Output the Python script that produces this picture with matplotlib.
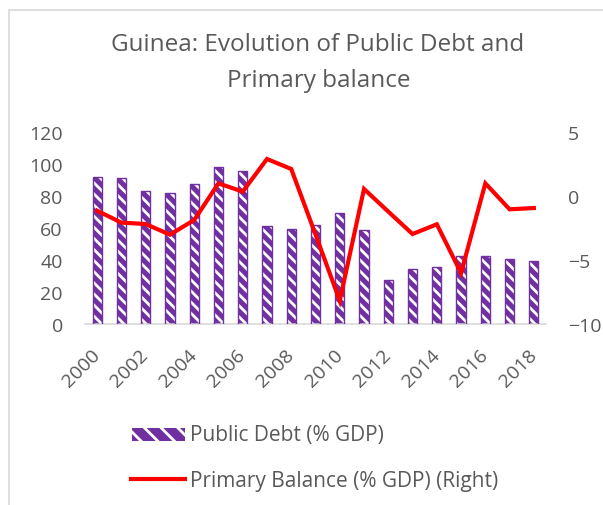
import matplotlib
matplotlib.use("Agg")
import matplotlib.pyplot as plt
from matplotlib.patches import Rectangle
import numpy as np

years = list(range(2000, 2019))
tick_labels = [str(y) if y % 2 == 0 else "" for y in years]
public_debt = [92, 91, 83.3, 82, 87.3, 98.3, 95.8, 61.3, 59.2, 61.7, 69.2,
               58.8, 27.5, 34.4, 35.4, 42.5, 42.5, 40.8, 39.2]
primary_balance = [-1.15, -2.08, -2.19, -3.02, -1.88, 0.99, 0.34, 2.89, 2.11, -3.0,
                   -8.18, 0.55, -1.22, -2.97, -2.21, -6.02, 0.99, -1.04, -0.94]

purple = "#7030A0"
grey = "#595959"
font = "Open Sans"
plt.rcParams["font.family"] = [font, "DejaVu Sans"]
plt.rcParams["hatch.linewidth"] = 2.0

fig = plt.figure(figsize=(6.03, 5.06), dpi=100)
W, H = 603, 506
ax = fig.add_axes([85 / W, 1 - 325 / H, (546 - 85) / W, 192 / H])
ax2 = ax.twinx()

x = np.arange(len(years))
bw = 0.38
hatch = "\\\\\\"
ax.bar(x, public_debt, width=bw, color=purple, edgecolor="none", zorder=2)
ax.bar(x, public_debt, width=bw, facecolor="none", edgecolor="white",
       hatch=hatch, linewidth=0, zorder=3)
ax.bar(x, public_debt, width=bw, facecolor="none", edgecolor=purple,
       linewidth=1.0, zorder=4)

ax2.plot(x, primary_balance, color="#FF0000", linewidth=3, solid_joinstyle="miter", zorder=5)

ax.set_xlim(-0.5, len(years) - 0.5)
ax.set_ylim(0, 120)
ax.set_yticks(range(0, 121, 20))
ax2.set_ylim(-10, 5)
ax2.set_yticks([-10, -5, 0, 5])

for a in (ax, ax2):
    for s in a.spines.values():
        s.set_visible(False)
    a.tick_params(length=0, labelsize=14, labelcolor=grey)
ax.spines["bottom"].set_visible(True)
ax.spines["bottom"].set_color("#D9D9D9")
ax.spines["bottom"].set_linewidth(1.2)
ax.set_xticks(x)
ax.set_xticklabels(tick_labels, rotation=45, ha="right", va="center", rotation_mode="anchor")
ax.tick_params(axis="x", pad=20)
ax.tick_params(axis="y", pad=16)
ax2.tick_params(axis="y", pad=16)

fig.text(318 / W, 1 - 51 / H, "Guinea: Evolution of Public Debt and",
         ha="center", va="baseline", fontsize=17.5, color=grey)
fig.text(319 / W, 1 - 87 / H, "Primary balance",
         ha="center", va="baseline", fontsize=17.5, color=grey)

# legend (manual)
lx0, lx1 = 132 / W, 185 / W
fig.patches.append(Rectangle((lx0, 1 - 442 / H), (lx1 - lx0), 13 / H, transform=fig.transFigure,
                             facecolor=purple, edgecolor="none", figure=fig))
fig.patches.append(Rectangle((lx0, 1 - 442 / H), (lx1 - lx0), 13 / H, transform=fig.transFigure,
                             facecolor="none", edgecolor="white", hatch="\\\\", linewidth=0, figure=fig))
fig.add_artist(plt.Line2D([131 / W, 185 / W], [1 - 480 / H] * 2, color="#FF0000", linewidth=3,
                          transform=fig.transFigure))
fig.text(190 / W, 1 - 441.5 / H, "Public Debt (% GDP)", ha="left", va="baseline",
         fontsize=15, color=grey)
fig.text(190 / W, 1 - 487 / H, "Primary Balance (% GDP) (Right)", ha="left", va="baseline",
         fontsize=15, color=grey)

# outer border
fig.patches.append(Rectangle((9 / W, -0.05), 1.1, 1 - 11 / H + 0.05, transform=fig.transFigure,
                             facecolor="none", edgecolor="#D9D9D9", linewidth=1.2, figure=fig))

fig.savefig("out.png", dpi=100)
